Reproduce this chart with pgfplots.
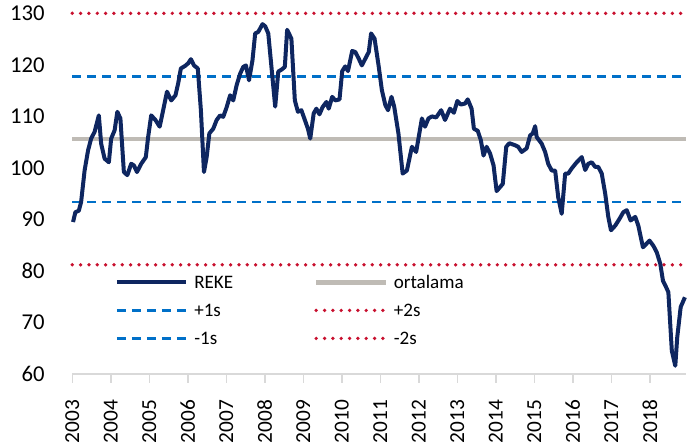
\documentclass[border=0pt]{standalone}
\usepackage{fontspec}
\setmainfont{Carlito}
\usepackage{pgfplots}
\pgfplotsset{compat=1.18}
\definecolor{navy}{HTML}{0E2660}
\definecolor{avg}{HTML}{BFBBB5}
\definecolor{sblue}{HTML}{0070C8}
\definecolor{sred}{HTML}{C8102E}
\definecolor{axgray}{HTML}{D9D9D9}
\pgfplotstableread{
x v
2003.02 89.5
2003.08 91.4
2003.17 91.7
2003.23 93.4
2003.32 99.5
2003.41 103.4
2003.49 105.7
2003.58 107.0
2003.69 110.2
2003.75 104.7
2003.84 101.8
2003.95 101.1
2004.01 105.7
2004.10 107.3
2004.17 110.9
2004.25 109.6
2004.34 99.2
2004.43 98.6
2004.53 100.8
2004.60 100.5
2004.68 99.2
2004.79 100.8
2004.91 102.1
2004.97 106.0
2005.05 110.2
2005.16 109.3
2005.27 108.0
2005.36 111.2
2005.46 114.8
2005.57 113.1
2005.68 114.1
2005.75 116.4
2005.82 119.3
2005.93 119.8
2006.01 120.3
2006.08 121.1
2006.16 119.9
2006.26 119.3
2006.34 111.2
2006.42 99.2
2006.49 102.1
2006.56 106.7
2006.66 107.6
2006.75 109.3
2006.84 110.2
2006.92 109.9
2007.01 111.8
2007.10 114.1
2007.18 113.1
2007.27 116.1
2007.36 118.3
2007.44 119.6
2007.51 119.9
2007.59 117.0
2007.68 120.9
2007.75 126.1
2007.83 126.4
2007.94 127.9
2008.01 127.5
2008.09 126.1
2008.18 119.0
2008.27 111.9
2008.35 118.7
2008.44 119.1
2008.52 119.6
2008.58 126.8
2008.69 125.1
2008.78 113.1
2008.86 110.9
2008.95 111.2
2009.04 109.3
2009.12 107.6
2009.18 105.7
2009.27 110.6
2009.34 111.5
2009.42 110.4
2009.50 111.8
2009.60 112.8
2009.66 111.5
2009.75 113.8
2009.83 113.1
2009.94 113.3
2010.01 118.8
2010.09 119.7
2010.16 118.8
2010.27 122.7
2010.35 122.5
2010.44 121.2
2010.52 119.9
2010.61 121.2
2010.70 122.5
2010.76 126.1
2010.85 125.1
2010.96 119.6
2011.04 115.1
2011.13 112.2
2011.20 111.2
2011.29 113.8
2011.36 111.9
2011.47 106.7
2011.58 98.9
2011.69 99.5
2011.82 104.1
2011.93 103.1
2012.08 109.6
2012.16 108.0
2012.25 109.6
2012.34 110.0
2012.45 109.8
2012.58 111.2
2012.68 109.3
2012.81 111.5
2012.91 110.7
2013.00 113.0
2013.09 112.3
2013.20 112.5
2013.27 113.3
2013.37 111.5
2013.43 107.6
2013.53 107.2
2013.61 105.4
2013.68 102.4
2013.76 104.1
2013.85 102.8
2013.94 100.5
2014.02 95.5
2014.18 96.9
2014.27 104.1
2014.35 104.8
2014.50 104.4
2014.58 104.1
2014.67 103.1
2014.80 103.8
2014.89 106.3
2014.96 106.7
2015.02 108.1
2015.06 106.0
2015.19 104.7
2015.28 103.1
2015.36 100.8
2015.45 99.5
2015.54 99.5
2015.62 94.3
2015.71 91.1
2015.80 98.9
2015.88 98.9
2015.97 99.9
2016.10 101.1
2016.23 102.1
2016.32 99.6
2016.40 100.8
2016.49 101.1
2016.58 100.2
2016.66 100.2
2016.75 98.9
2016.84 95.0
2016.92 90.5
2016.99 87.9
2017.10 88.8
2017.21 90.1
2017.31 91.4
2017.40 91.8
2017.50 89.8
2017.62 90.5
2017.70 88.8
2017.82 84.6
2017.90 85.2
2017.99 85.9
2018.09 84.9
2018.18 83.6
2018.27 81.4
2018.34 78.1
2018.40 77.2
2018.48 75.9
2018.57 64.5
2018.66 61.6
2018.71 67.1
2018.80 73.0
2018.91 74.9
}\reke
\begin{document}
\begin{tikzpicture}
\useasboundingbox (-54.2pt,-51pt) rectangle (470pt,280.5pt);
\begin{axis}[
  at={(0pt,0pt)}, anchor=south west, scale only axis,
  width=460.3pt, height=270.5pt,
  xmin=2003, xmax=2018.94, ymin=60, ymax=130,
  xtick={2003,2004,...,2018}, ytick={60,70,...,130},
  axis x line*=bottom, axis y line*=left,
  x axis line style={draw=axgray, line width=1.1pt, -},
  y axis line style={draw=none},
  tick align=outside, major tick length=6.4pt,
  xtick style={draw=axgray, line width=1.1pt},
  ytick style={draw=none},
  /pgf/number format/assume math mode=true,
  /pgf/number format/1000 sep={},
  xticklabel style={rotate=90, anchor=east, inner sep=0pt, font=\fontsize{16}{19}\selectfont},
  yticklabel style={anchor=east, inner sep=0pt, font=\fontsize{17}{20}\selectfont},
  xticklabel shift=12.7pt, yticklabel shift=14.2pt,
  clip=false,
  legend columns=2,
  legend image code/.code={\draw[#1] (0pt,0pt) -- (52pt,0pt);},
  legend style={at={(axis description cs:0.0695,0.275)}, anchor=north west,
    draw=none, fill=none, inner sep=0pt, outer sep=0pt,
    font=\fontsize{14.3}{17}\selectfont,
    row sep=9.7pt, column sep=3.5pt,
    nodes={inner sep=1pt, text height=9.3pt, text depth=0pt},
    /tikz/every even column/.append style={column sep=59.6pt}},
  legend cell align=left,
]
\addplot[sblue, line width=2.1pt, dash pattern=on 6.75pt off 4.5pt, forget plot] coordinates {(2003,117.8) (2018.94,117.8)};
\addplot[sblue, line width=2.1pt, dash pattern=on 6.75pt off 4.5pt, forget plot] coordinates {(2003,93.4) (2018.94,93.4)};
\addplot[sred, line width=2.8pt, line cap=round, dash pattern=on 0pt off 6.25pt, forget plot] coordinates {(2003,130.0) (2018.94,130.0)};
\addplot[sred, line width=2.8pt, line cap=round, dash pattern=on 0pt off 6.25pt, forget plot] coordinates {(2003,81.2) (2018.94,81.2)};
\addplot[avg, line width=3.4pt, forget plot] coordinates {(2003,105.6) (2018.94,105.6)};
\addplot[navy, line width=3pt, line join=round, forget plot] table[x=x,y=v] {\reke};
\addlegendimage{navy, line width=3pt}
\addlegendentry{REKE}
\addlegendimage{avg, line width=3.4pt}
\addlegendentry{ortalama}
\addlegendimage{sblue, line width=2.1pt, dash pattern=on 6.75pt off 4.5pt}
\addlegendentry{+1s}
\addlegendimage{sred, line width=2.8pt, line cap=round, dash pattern=on 0pt off 6.25pt}
\addlegendentry{+2s}
\addlegendimage{sblue, line width=2.1pt, dash pattern=on 6.75pt off 4.5pt}
\addlegendentry{-1s}
\addlegendimage{sred, line width=2.8pt, line cap=round, dash pattern=on 0pt off 6.25pt}
\addlegendentry{-2s}
\end{axis}
\end{tikzpicture}
\end{document}
